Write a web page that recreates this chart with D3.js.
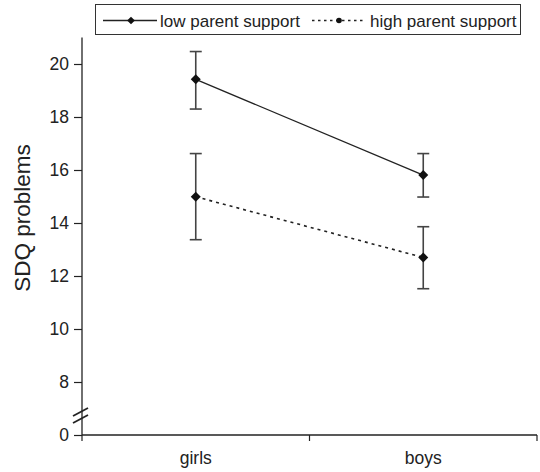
<!DOCTYPE html>
<html><head><meta charset="utf-8">
<script src="https://cdn.jsdelivr.net/npm/d3@7"></script>
<style>body{margin:0;background:#fff}svg{display:block;font-family:"Liberation Sans",Arial,sans-serif}</style>
</head><body>
<svg id="c" width="540" height="472"></svg>
<script>
const categories = ["girls", "boys"];
const seriesNames = ["low parent support", "high parent support"];
const lowMean = [19.42, 15.81];
const lowUpper = [20.47, 16.62];
const lowLower = [18.30, 14.98];
const highMean = [14.99, 12.70];
const highUpper = [16.62, 13.86];
const highLower = [13.37, 11.52];
const yTicks = [6, 8, 10, 12, 14, 16, 18, 20];
const yTickLabels = ["0", "8", "10", "12", "14", "16", "18", "20"];

const FONT = '"Liberation Sans",Arial,sans-serif';
const svg = d3.select("#c");
const x0 = 82, x1 = 537, yTop = 37.5, yBot = 435;
const x = d3.scaleBand().domain(categories).range([x0, x1]);
const y = d3.scaleLinear().domain([6, 21]).range([yBot, yTop]);

// y axis
const yAxis = d3.axisLeft(y).tickValues(yTicks).tickFormat((d,i)=>yTickLabels[i]).tickSize(8).tickPadding(5);
const gy = svg.append("g").attr("transform", `translate(${x0},0)`).call(yAxis).attr("font-family", FONT);
gy.select(".domain").attr("d", `M0,${yTop}V${yBot}`).attr("stroke", "#222").attr("stroke-width", 1.3);
gy.selectAll(".tick line").attr("stroke", "#222").attr("stroke-width", 1.2);
gy.selectAll(".tick text").attr("font-size", 17.5).attr("fill", "#222");

// x axis
const gx = svg.append("g").attr("transform", `translate(0,${yBot})`);
gx.append("line").attr("x1", x0).attr("x2", x1).attr("stroke", "#222").attr("stroke-width", 1.3);
const xBounds = [x0, x0 + x.bandwidth(), x1];
gx.selectAll("line.t").data(xBounds).join("line").attr("class","t")
  .attr("x1", d=>d).attr("x2", d=>d).attr("y1", 0).attr("y2", 6).attr("stroke", "#222").attr("stroke-width", 1.2);
gx.selectAll("text").data(categories).join("text")
  .attr("x", d=>x(d)+x.bandwidth()/2).attr("y", 28.5).attr("text-anchor","middle")
  .attr("font-size", 17.5).attr("fill", "#222").text(d=>d);

// axis break
const brk = svg.append("g").attr("stroke", "#222").attr("stroke-width", 1.8);
[0, 7].forEach(o => brk.append("line").attr("x1", x0-9).attr("y1", 416+o).attr("x2", x0+6).attr("y2", 408+o));

// y title
svg.append("text").attr("transform", `translate(30,218) rotate(-90)`)
  .attr("text-anchor","middle").attr("font-size", 22.5).attr("fill","#222").text("SDQ problems");

const cx = d => x(d) + x.bandwidth()/2;
const series = [
  {mean: lowMean, up: lowUpper, lo: lowLower, dash: null},
  {mean: highMean, up: highUpper, lo: highLower, dash: "3,4"}
];
const line = d3.line().x(d=>cx(d.c)).y(d=>y(d.v));
const sq = d3.symbol().type(d3.symbolSquare);

series.forEach(s => {
  const pts = categories.map((c,i)=>({c, v:s.mean[i], u:s.up[i], l:s.lo[i]}));
  const eb = svg.append("g").attr("stroke", "#444").attr("stroke-width", 1.6);
  pts.forEach(p => {
    eb.append("line").attr("x1", cx(p.c)).attr("x2", cx(p.c)).attr("y1", y(p.u)).attr("y2", y(p.l));
    eb.append("line").attr("x1", cx(p.c)-6).attr("x2", cx(p.c)+6).attr("y1", y(p.u)).attr("y2", y(p.u));
    eb.append("line").attr("x1", cx(p.c)-6).attr("x2", cx(p.c)+6).attr("y1", y(p.l)).attr("y2", y(p.l));
  });
  svg.append("path").datum(pts).attr("d", line).attr("fill","none").attr("stroke","#222")
    .attr("stroke-width", s.dash ? 1.6 : 1.3).attr("stroke-dasharray", s.dash);
  svg.selectAll(null).data(pts).join("path")
    .attr("transform", p=>`translate(${cx(p.c)},${y(p.v)}) rotate(45)`)
    .attr("d", sq.size(50)).attr("fill","#111");
});

// legend
const lg = svg.append("g").attr("font-family", FONT);
lg.append("rect").attr("x", 95.5).attr("y", 4.5).attr("width", 425).attr("height", 30)
  .attr("fill","#fff").attr("stroke","#333").attr("stroke-width",1);
lg.append("line").attr("x1",103).attr("x2",157).attr("y1",20.5).attr("y2",20.5).attr("stroke","#222").attr("stroke-width",1.3);
lg.append("path").attr("transform","translate(131,20.5) rotate(45)").attr("d", d3.symbol().type(d3.symbolSquare).size(30)()).attr("fill","#111");
lg.append("text").attr("x",160).attr("y",26.5).attr("font-size",17).attr("fill","#222").text(seriesNames[0]);
lg.append("line").attr("x1",312).attr("x2",364).attr("y1",20.5).attr("y2",20.5).attr("stroke","#222").attr("stroke-width",1.6).attr("stroke-dasharray","2.5,3.5");
lg.append("circle").attr("cx",339).attr("cy",20.5).attr("r",2.8).attr("fill","#111");
lg.append("text").attr("x",370).attr("y",26.5).attr("font-size",17).attr("fill","#222").text(seriesNames[1]);
</script>
</body></html>
